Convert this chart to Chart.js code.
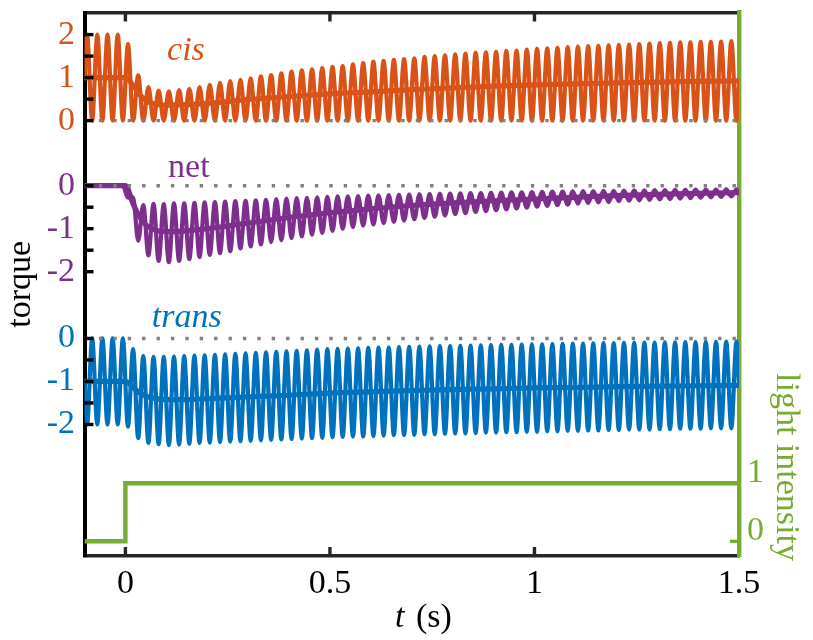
<!DOCTYPE html>
<html>
<head>
<meta charset="utf-8">
<script src="https://cdn.jsdelivr.net/npm/chart.js@4.4.1/dist/chart.umd.min.js"></script>
<style>
  html, body { margin: 0; padding: 0; background: #fff; }
  #wrap { width: 813px; height: 640px; position: relative; }
</style>
</head>
<body>
<div id="wrap"><canvas id="torqueChart"></canvas></div>
<script>
// time axis (s)
const tStart = -0.1;
const tEnd = 1.5;
const xTicks = [0, 0.5, 1, 1.5];
const xTickLabels = ['0', '0.5', '1', '1.5'];

// drive at 40 Hz: one cycle = 25 ms, first extremum of cycle k at firstExtremum + k*period,
// second extremum half a period later
const period = 0.025;
const firstExtremum = -0.09375;

// cis torque: value at first extremum (peak) and second extremum (trough) of each cycle
const cisHigh = [
  2, 2, 2, 2, 1.78, 1.05, 0.78, 0.70, 0.68, 0.71,
  0.74, 0.78, 0.83, 0.88, 0.92, 0.95, 0.98, 1.03, 1.06, 1.10,
  1.14, 1.17, 1.19, 1.22, 1.25, 1.27, 1.31, 1.34, 1.37, 1.39,
  1.41, 1.43, 1.45, 1.48, 1.50, 1.52, 1.54, 1.56, 1.58, 1.59,
  1.60, 1.62, 1.63, 1.65, 1.67, 1.68, 1.69, 1.71, 1.72, 1.73,
  1.74, 1.75, 1.76, 1.77, 1.78, 1.79, 1.80, 1.81, 1.82, 1.82,
  1.83, 1.83, 1.84, 1.85
];
const cisLow = [
  0, 0, 0, 0, 0, 0, 0, 0, 0, 0,
  0, 0, 0, 0, 0, 0, 0, 0, 0, 0,
  0, 0, 0, 0, 0, 0, 0, 0, 0, 0,
  0, 0, 0, 0, 0, 0, 0, 0, 0, 0,
  0, 0, 0, 0, 0, 0, 0, 0, 0, 0,
  0, 0, 0, 0, 0, 0, 0, 0, 0, 0,
  0, 0, 0, 0
];

// net torque: trough at first extremum, peak at second
const netLow = [
  0, 0, 0, 0, -0.28, -1.28, -1.62, -1.75, -1.78, -1.75,
  -1.71, -1.66, -1.61, -1.57, -1.52, -1.46, -1.41, -1.36, -1.31, -1.27,
  -1.22, -1.18, -1.14, -1.10, -1.05, -1.00, -0.96, -0.93, -0.90, -0.87,
  -0.84, -0.81, -0.78, -0.75, -0.72, -0.69, -0.66, -0.64, -0.61, -0.59,
  -0.57, -0.55, -0.53, -0.51, -0.49, -0.47, -0.45, -0.44, -0.42, -0.40,
  -0.39, -0.38, -0.36, -0.35, -0.34, -0.33, -0.32, -0.31, -0.30, -0.29,
  -0.28, -0.27, -0.26, -0.25
];
const netHigh = [
  0, 0, 0, 0, -0.27, -0.45, -0.42, -0.43, -0.41, -0.41,
  -0.40, -0.39, -0.38, -0.37, -0.36, -0.35, -0.34, -0.33, -0.31, -0.30,
  -0.29, -0.28, -0.27, -0.26, -0.25, -0.245, -0.24, -0.23, -0.225, -0.22,
  -0.21, -0.205, -0.20, -0.195, -0.19, -0.185, -0.18, -0.175, -0.17, -0.165,
  -0.16, -0.156, -0.152, -0.148, -0.144, -0.14, -0.136, -0.132, -0.128, -0.124,
  -0.12, -0.117, -0.114, -0.111, -0.108, -0.105, -0.102, -0.099, -0.096, -0.093,
  -0.09, -0.088, -0.086, -0.084
];

// trans torque: trough at first extremum, peak at second
const transLow = [
  -2, -2, -2, -2, -2.05, -2.32, -2.43, -2.46, -2.48, -2.47,
  -2.45, -2.43, -2.42, -2.41, -2.40, -2.39, -2.38, -2.37, -2.36, -2.35,
  -2.34, -2.33, -2.32, -2.31, -2.30, -2.29, -2.28, -2.28, -2.27, -2.26,
  -2.25, -2.25, -2.24, -2.23, -2.23, -2.22, -2.21, -2.21, -2.20, -2.19,
  -2.19, -2.18, -2.18, -2.17, -2.17, -2.16, -2.16, -2.15, -2.15, -2.14,
  -2.14, -2.13, -2.13, -2.12, -2.12, -2.12, -2.11, -2.11, -2.10, -2.10,
  -2.10, -2.09, -2.09, -2.09
];
const transHigh = [
  0, 0, 0, 0, -0.25, -0.41, -0.43, -0.43, -0.42, -0.41,
  -0.40, -0.39, -0.38, -0.37, -0.355, -0.345, -0.335, -0.32, -0.31, -0.30,
  -0.285, -0.275, -0.26, -0.25, -0.24, -0.235, -0.23, -0.22, -0.215, -0.21,
  -0.20, -0.195, -0.19, -0.185, -0.18, -0.175, -0.17, -0.165, -0.16, -0.155,
  -0.15, -0.146, -0.142, -0.138, -0.134, -0.13, -0.126, -0.122, -0.118, -0.114,
  -0.11, -0.107, -0.104, -0.101, -0.098, -0.095, -0.092, -0.089, -0.086, -0.083,
  -0.08, -0.077, -0.074, -0.07
];

// cycle-averaged torques
const meanTimes = [-0.1, 0, 0.02, 0.04, 0.06, 0.1, 0.15, 0.2, 0.3, 0.4, 0.5,
                   0.6, 0.7, 0.8, 0.9, 1.0, 1.1, 1.2, 1.3, 1.4, 1.5];
const cisMean = [1, 1, 0.8, 0.55, 0.42, 0.36, 0.37, 0.40, 0.49, 0.56, 0.62,
                 0.67, 0.72, 0.76, 0.80, 0.83, 0.855, 0.875, 0.895, 0.91, 0.925];
const netMean = [0, 0, -0.45, -0.8, -0.98, -1.07, -1.05, -1.0, -0.87, -0.74, -0.63,
                 -0.54, -0.46, -0.40, -0.35, -0.31, -0.27, -0.23, -0.20, -0.18, -0.16];
const transMean = [-1, -1, -1.15, -1.3, -1.37, -1.42, -1.42, -1.40, -1.36, -1.32, -1.27,
                   -1.24, -1.21, -1.19, -1.17, -1.15, -1.14, -1.12, -1.11, -1.10, -1.09];

// light intensity (step at t = 0)
const lightTimes = [-0.1, 0, 0, 1.5];
const lightLevel = [0, 0, 1, 1];

// tick values and labels
const cisTickVals = [0, 0.5, 1, 1.5, 2];
const netTickVals = [0, -0.5, -1, -1.5, -2];
const transTickVals = [0, -0.5, -1, -1.5, -2];
const lightTickVals = [0, 1];

// layout: the three torque traces share one axis, shifted to their own baselines
const Y_MIN = -10.126, Y_MAX = 2.514;
const NET_BASE = -1.514;
const TRANS_BASE = -5.067;
const LIGHT_MIN = -0.253, LIGHT_MAX = 9.117;

const cisColor = '#D95319';
const netColor = '#7E2F8E';
const transColor = '#0072BD';
const lightColor = '#77AC30';
const axisColor = '#262626';
const FONT = "'Liberation Serif', 'DejaVu Serif', 'Noto Serif', serif";

function oscillation(high, low, startVal, endVal, base) {
    const pts = [{ x: tStart, y: startVal + base }];
    high.forEach((v, k) => {
        const t = firstExtremum + k * period;
        pts.push({ x: t, y: v + base });
        pts.push({ x: t + period / 2, y: low[k] + base });
    });
    pts.push({ x: tEnd, y: endVal + base });
    return pts;
}

function meanLine(values, base) {
    return meanTimes.map((t, i) => ({ x: t, y: values[i] + base }));
}

function zeroLine(base) {
    return {
        data: [{ x: tStart, y: base }, { x: tEnd, y: base }],
        borderColor: '#808080',
        borderWidth: 3.4,
        borderDash: [3.4, 11],
        borderCapStyle: 'butt',
        yAxisID: 'y',
        order: 0
    };
}

function trace(data, color, width, order) {
    return {
        data: data,
        borderColor: color,
        borderWidth: width,
        borderJoinStyle: 'round',
        borderCapStyle: 'round',
        cubicInterpolationMode: 'monotone',
        yAxisID: 'y',
        order: order
    };
}

// fixed axis box sizes, no extra label padding around the plot
function fixBox(size) {
    return s => {
        if (s.isHorizontal()) s.height = size; else s.width = size;
        s.paddingTop = 0; s.paddingBottom = 0;
        s.paddingLeft = 0; s.paddingRight = 0;
    };
}

// left tick list with labels/colours
const leftTicks = [];
cisTickVals.forEach(v => leftTicks.push({ value: v, label: Number.isInteger(v) ? String(v) : '', color: cisColor }));
netTickVals.forEach(v => leftTicks.push({ value: v + NET_BASE, label: Number.isInteger(v) ? String(v) : '', color: netColor }));
transTickVals.forEach(v => leftTicks.push({ value: v + TRANS_BASE, label: Number.isInteger(v) ? String(v) : '', color: transColor }));

const seriesLabels = [
    { text: 'cis', italic: true, color: cisColor, t: 0.148, v: 1.41 },
    { text: 'net', italic: false, color: netColor, t: 0.155, v: NET_BASE + 0.21 },
    { text: 'trans', italic: true, color: transColor, t: 0.15, v: TRANS_BASE + 0.274 }
];

// MATLAB-style inward ticks and free text
const decorations = {
    id: 'decorations',
    afterDraw(chart) {
        const { ctx, chartArea: a, scales } = chart;
        const len = 9;
        ctx.save();
        ctx.lineCap = 'butt';
        ctx.lineWidth = 3.4;

        ctx.strokeStyle = '#000';
        scales.y.ticks.forEach(t => {
            const py = scales.y.getPixelForValue(t.value);
            ctx.beginPath(); ctx.moveTo(a.left, py); ctx.lineTo(a.left + len, py); ctx.stroke();
        });

        ctx.strokeStyle = axisColor;
        scales.x.ticks.forEach(t => {
            const px = scales.x.getPixelForValue(t.value);
            if (px > a.right - 4) return;
            ctx.beginPath(); ctx.moveTo(px, a.bottom); ctx.lineTo(px, a.bottom - len); ctx.stroke();
            ctx.beginPath(); ctx.moveTo(px, a.top); ctx.lineTo(px, a.top + len); ctx.stroke();
        });

        ctx.strokeStyle = lightColor;
        scales.yLight.ticks.forEach(t => {
            const py = scales.yLight.getPixelForValue(t.value);
            ctx.beginPath(); ctx.moveTo(a.right, py); ctx.lineTo(a.right - len, py); ctx.stroke();
        });

        // trace names
        ctx.textAlign = 'center';
        ctx.textBaseline = 'alphabetic';
        seriesLabels.forEach(l => {
            ctx.font = (l.italic ? 'italic ' : '') + '34px ' + FONT;
            ctx.fillStyle = l.color;
            ctx.fillText(l.text, scales.x.getPixelForValue(l.t), scales.y.getPixelForValue(l.v));
        });

        // axis titles
        ctx.font = '34px ' + FONT;
        ctx.fillStyle = '#000';
        ctx.save();
        ctx.translate(a.left - 55, (a.top + a.bottom) / 2);
        ctx.rotate(-Math.PI / 2);
        ctx.fillText('torque', 0, 0);
        ctx.restore();

        ctx.fillStyle = lightColor;
        ctx.save();
        ctx.translate(a.right + 38, 467);
        ctx.rotate(Math.PI / 2);
        ctx.fillText('light intensity', 0, 0);
        ctx.restore();

        ctx.fillStyle = '#000';
        ctx.textAlign = 'left';
        const tx = 395, ty = a.bottom + 71;
        ctx.font = 'italic 34px ' + FONT;
        ctx.fillText('t', tx, ty);
        const tw = ctx.measureText('t').width;
        ctx.font = '34px ' + FONT;
        ctx.fillText(' (s)', tx + tw + 3, ty);

        ctx.restore();
    }
};

const datasets = [
    zeroLine(0),
    zeroLine(NET_BASE),
    zeroLine(TRANS_BASE),
    trace(meanLine(cisMean, 0), cisColor, 5.2, 1),
    trace(oscillation(cisHigh, cisLow, cisMean[0], cisMean[cisMean.length - 1], 0), cisColor, 4.2, 2),
    trace(meanLine(netMean, NET_BASE), netColor, 5.2, 1),
    trace(oscillation(netLow, netHigh, netMean[0], netMean[netMean.length - 1], NET_BASE), netColor, 4.2, 2),
    trace(meanLine(transMean, TRANS_BASE), transColor, 5.2, 1),
    trace(oscillation(transLow, transHigh, transMean[0], transMean[transMean.length - 1], TRANS_BASE), transColor, 4.2, 2),
    {
        data: lightTimes.map((t, i) => ({ x: t, y: lightLevel[i] })),
        borderColor: lightColor,
        borderWidth: 4.4,
        borderCapStyle: 'butt',
        yAxisID: 'yLight',
        order: 3
    }
];

new Chart(document.getElementById('torqueChart').getContext('2d'), {
    type: 'line',
    data: { datasets: datasets },
    options: {
        responsive: true,
        maintainAspectRatio: false,
        animation: false,
        events: [],
        parsing: false,
        elements: { point: { radius: 0 } },
        layout: { padding: 0 },
        plugins: {
            legend: { display: false },
            tooltip: { enabled: false }
        },
        scales: {
            x: {
                type: 'linear',
                position: 'bottom',
                min: tStart,
                max: tEnd,
                z: 1,
                afterBuildTicks: s => { s.ticks = xTicks.map(v => ({ value: v })); },
                afterFit: fixBox(84),
                grid: { display: false, drawTicks: false },
                border: { display: true, color: axisColor, width: 3.5 },
                ticks: {
                    autoSkip: false,
                    maxRotation: 0,
                    padding: 8,
                    color: '#000',
                    font: { family: FONT, size: 34 },
                    callback: (v, i) => xTickLabels[i]
                }
            },
            xTop: {
                type: 'linear',
                position: 'top',
                min: tStart,
                max: tEnd,
                z: 1,
                afterFit: fixBox(12.5),
                grid: { display: false, drawTicks: false },
                border: { display: true, color: axisColor, width: 3.5 },
                ticks: { display: false }
            },
            y: {
                type: 'linear',
                position: 'left',
                min: Y_MIN,
                max: Y_MAX,
                z: 1,
                afterBuildTicks: s => { s.ticks = leftTicks.map(t => ({ value: t.value })); },
                afterFit: fixBox(84.5),
                grid: { display: false, drawTicks: false },
                border: { display: true, color: '#000', width: 4 },
                ticks: {
                    autoSkip: false,
                    padding: 9.5,
                    font: { family: FONT, size: 34 },
                    color: c => leftTicks[c.index] ? leftTicks[c.index].color : '#000',
                    callback: (v, i) => leftTicks[i].label
                }
            },
            yLight: {
                type: 'linear',
                position: 'right',
                min: LIGHT_MIN,
                max: LIGHT_MAX,
                z: 2,
                afterBuildTicks: s => { s.ticks = lightTickVals.map(v => ({ value: v })); },
                afterFit: fixBox(74),
                grid: { display: false, drawTicks: false },
                border: { display: true, color: lightColor, width: 4.4 },
                ticks: {
                    autoSkip: false,
                    padding: 8,
                    labelOffset: -10,
                    color: lightColor,
                    font: { family: FONT, size: 34 },
                    callback: v => String(v)
                }
            }
        }
    },
    plugins: [decorations]
});
</script>
</body>
</html>
